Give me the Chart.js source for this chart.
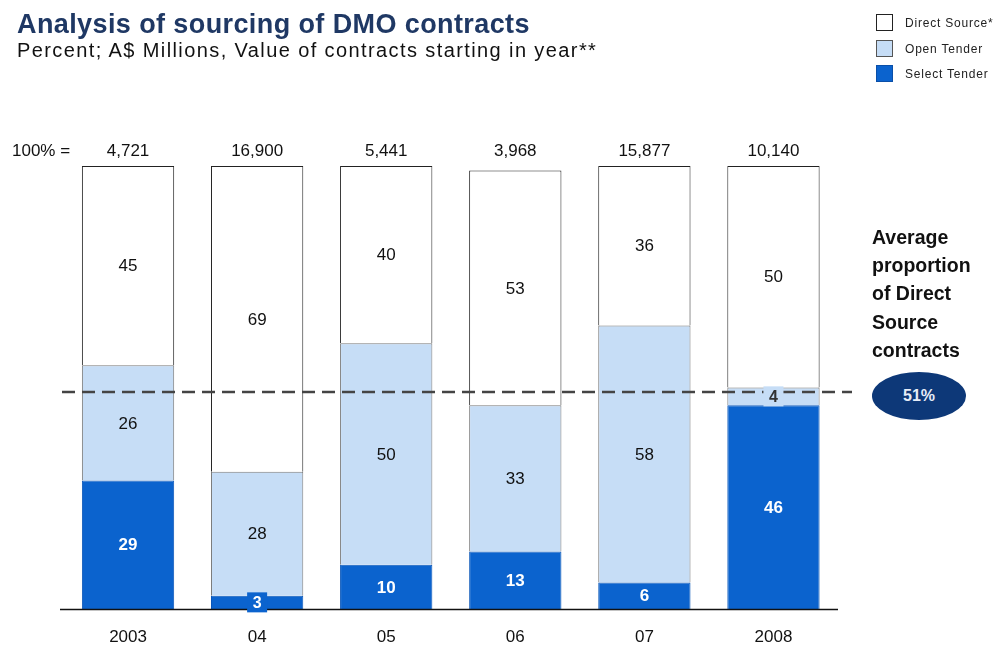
<!DOCTYPE html>
<html>
<head>
<meta charset="utf-8">
<script src="https://cdn.jsdelivr.net/npm/chart.js@4.4.1/dist/chart.umd.min.js"></script>
<style>
  html, body { margin: 0; padding: 0; background: #fff; }
  #wrap { position: relative; width: 999px; height: 647px; overflow: hidden; font-family: "Liberation Sans", Arial, sans-serif; }
  #chart { position: absolute; left: 0; top: 0; }
  .title { position: absolute; left: 17px; top: 9px; font-size: 27px; font-weight: bold; color: #1f3864; letter-spacing: 0.4px; white-space: nowrap; }
  .subtitle { position: absolute; left: 17px; top: 39px; font-size: 20px; color: #111; letter-spacing: 1.4px; white-space: nowrap; }
  .legend { position: absolute; left: 876px; top: 12px; font-size: 12px; color: #222; letter-spacing: 0.8px; }
  .legend .row { position: relative; height: 25.5px; }
  .legend .sw { position: absolute; left: 0; top: 2px; width: 17px; height: 17px; box-sizing: border-box; }
  .legend .lb { position: absolute; left: 29px; top: 4px; white-space: nowrap; }
  .note { position: absolute; left: 872px; top: 223px; font-size: 19.5px; font-weight: bold; color: #111; line-height: 28.2px; }
  .badge { position: absolute; left: 872px; top: 372px; width: 94px; height: 48px; border-radius: 50%; background: #0d3878; color: #e6ecf7; font-weight: bold; font-size: 16px; text-align: center; line-height: 48px; }
</style>
</head>
<body>
<div id="wrap">
  <canvas id="chart" width="999" height="647"></canvas>
  <div class="title">Analysis of sourcing of DMO contracts</div>
  <div class="subtitle">Percent; A$ Millions, Value of contracts starting in year**</div>
  <div class="legend">
    <div class="row"><div class="sw" style="background:#fff;border:1px solid #222"></div><div class="lb">Direct Source*</div></div>
    <div class="row"><div class="sw" style="background:#c6ddf6;border:1px solid #555"></div><div class="lb">Open Tender</div></div>
    <div class="row"><div class="sw" style="background:#0b63ce;border:1px solid #0a4fa8"></div><div class="lb">Select Tender</div></div>
  </div>
  <div class="note">Average<br>proportion<br>of Direct<br>Source<br>contracts</div>
  <div class="badge" id="badge"></div>
</div>
<script>
// Contract sourcing shares by year (percent of the year's contract value)
const years = ['2003', '04', '05', '06', '07', '2008'];
const selectTender = [29, 3, 10, 13, 6, 46];
const openTender = [26, 28, 50, 33, 58, 4];
const directSource = [45, 69, 40, 53, 36, 50];
const totalValue = ['4,721', '16,900', '5,441', '3,968', '15,877', '10,140'];
const avgDirectShare = 51;

document.getElementById('badge').textContent = avgDirectShare + '%';

const FONT = '"Liberation Sans", Arial, sans-serif';

const overlay = {
  id: 'overlay',
  afterDatasetsDraw(chart) {
    const { ctx, chartArea, scales } = chart;
    const x = scales.x, y = scales.y;
    ctx.save();

    // baseline
    ctx.strokeStyle = '#111';
    ctx.lineWidth = 1.5;
    ctx.beginPath();
    ctx.moveTo(60, y.getPixelForValue(0) + 0.5);
    ctx.lineTo(chartArea.right, y.getPixelForValue(0) + 0.5);
    ctx.stroke();

    // average direct-source level (measured from the top of the bars)
    const avgY = y.getPixelForValue(100 - avgDirectShare);
    ctx.strokeStyle = '#444';
    ctx.lineWidth = 2.5;
    ctx.setLineDash([13, 7]);
    ctx.beginPath();
    ctx.moveTo(62, avgY);
    ctx.lineTo(852, avgY);
    ctx.stroke();
    ctx.setLineDash([]);

    // segment value labels
    ctx.textAlign = 'center';
    ctx.textBaseline = 'middle';
    const styles = [
      { color: '#ffffff', font: 'bold 17px ' + FONT, small: '#0b63ce' },
      { color: '#111111', font: '17px ' + FONT, small: '#c6ddf6' },
      { color: '#111111', font: '17px ' + FONT, small: null }
    ];
    chart.data.datasets.forEach((ds, di) => {
      const meta = chart.getDatasetMeta(di);
      meta.data.forEach((bar, i) => {
        const v = ds.data[i];
        const cy = (bar.y + bar.base) / 2;
        const st = styles[di];
        if (v < 5 && st.small) {
          ctx.fillStyle = st.small;
          ctx.fillRect(bar.x - 10, cy - 10, 20, 20);
          ctx.fillStyle = di === 1 ? '#333' : '#fff';
          ctx.font = 'bold 16px ' + FONT;
        } else {
          ctx.fillStyle = st.color;
          ctx.font = st.font;
        }
        ctx.fillText(String(v), bar.x, cy + 1);
      });
    });

    // totals above bars and year labels below
    ctx.fillStyle = '#111';
    ctx.font = '17px ' + FONT;
    years.forEach((yr, i) => {
      const cx = x.getPixelForValue(i);
      ctx.fillText(totalValue[i], cx, 151);
      ctx.fillText(yr, cx, 637);
    });
    ctx.textAlign = 'left';
    ctx.fillText('100% =', 12, 151);
    ctx.restore();
  }
};

new Chart(document.getElementById('chart'), {
  type: 'bar',
  data: {
    labels: years,
    datasets: [
      { label: 'Select Tender', data: selectTender, backgroundColor: '#0b63ce', borderColor: '#0a56b8', borderWidth: 1 },
      { label: 'Open Tender', data: openTender, backgroundColor: '#c6ddf6', borderColor: '#7a7a7a', borderWidth: 1 },
      { label: 'Direct Source*', data: directSource, backgroundColor: '#ffffff', borderColor: '#222222', borderWidth: 1 }
    ]
  },
  options: {
    responsive: false,
    animation: false,
    devicePixelRatio: 1,
    layout: { padding: { top: 166, bottom: 38, left: 63.5, right: 161 } },
    datasets: { bar: { barPercentage: 0.715, categoryPercentage: 1 } },
    plugins: { legend: { display: false }, tooltip: { enabled: false } },
    scales: {
      x: { display: false, stacked: true },
      y: { display: false, stacked: true, min: 0, max: 100 }
    }
  },
  plugins: [overlay]
});
</script>
</body>
</html>
